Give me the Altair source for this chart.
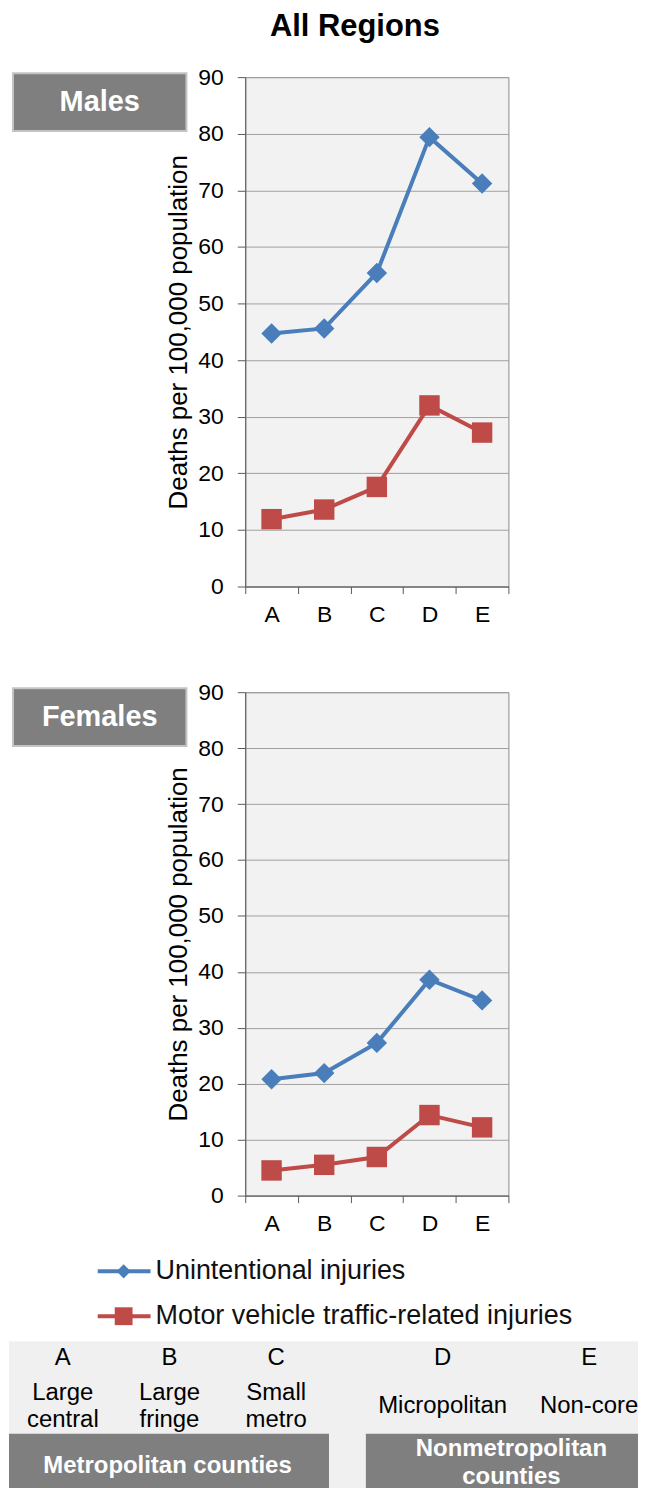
import altair as alt
import pandas as pd

# ---------------- data ----------------
title_text = "All Regions"
panel_labels = ["Males", "Females"]
categories = ["A", "B", "C", "D", "E"]
series_names = ["Unintentional injuries", "Motor vehicle traffic-related injuries"]
males_unintentional = [44.7, 45.6, 55.4, 79.4, 71.2]
males_motor = [11.9, 13.6, 17.6, 32.0, 27.2]
females_unintentional = [20.8, 21.9, 27.3, 38.6, 34.9]
females_motor = [4.5, 5.5, 6.9, 14.4, 12.2]
y_ticks = [0, 10, 20, 30, 40, 50, 60, 70, 80, 90]
y_title = "Deaths per 100,000 population"
descriptions = ["Large\ncentral", "Large\nfringe", "Small\nmetro", "Micropolitan", "Non-core"]
group_names = ["Metropolitan counties", "Nonmetropolitan\ncounties"]

# ---------------- styles ----------------
FONT = "Liberation Sans"
BLUE = "#4a7ebb"
RED = "#be4b48"
BOX = "#7f7f7f"
W = 264
LEFT, RIGHT = -237, 394   # canvas extent relative to the plot origin

color_scale = alt.Scale(domain=series_names, range=[BLUE, RED])
shape_scale = alt.Scale(domain=series_names, range=["diamond", "square"])


def one(**kw):
    return pd.DataFrame({k: [v] for k, v in kw.items()})


def panel(label, unint, motor, height, top, bottom, with_title, with_legend):
    df = pd.DataFrame({
        "region": categories * 2,
        "series": [series_names[0]] * 5 + [series_names[1]] * 5,
        "value": list(unint) + list(motor),
    })
    x = alt.X("region:N",
              scale=alt.Scale(type="band", domain=categories, paddingInner=0, paddingOuter=0),
              axis=alt.Axis(title=None, labelAngle=0, tickBand="extent", tickSize=7,
                            labelPadding=10, labelFontSize=23, labelFont=FONT, labelColor="#000",
                            domainColor="#595959", tickColor="#595959", grid=False))
    y = alt.Y("value:Q",
              scale=alt.Scale(domain=[0, 90], nice=False, zero=True),
              axis=alt.Axis(title=y_title, values=y_ticks, tickSize=8, labelPadding=14,
                            labelFontSize=23, labelFont=FONT, labelColor="#000",
                            titleFont=FONT, titleFontSize=26, titleFontWeight="normal",
                            titleColor="#000", titlePadding=6,
                            domainColor="#595959", tickColor="#595959",
                            gridColor="#a0a0a0", gridWidth=1))
    color = alt.Color("series:N", scale=color_scale, legend=None)
    shape = alt.Shape("series:N", scale=shape_scale, legend=None)

    base = alt.Chart(df)
    layers = [
        alt.Chart(one(k=1)).mark_rect(opacity=0).encode(
            x=alt.value(LEFT), x2=alt.value(RIGHT), y=alt.value(-top), y2=alt.value(height + bottom)),
        base.mark_line(strokeWidth=4).encode(x=x, y=y, color=color),
        base.mark_point(filled=True, size=420, opacity=1).encode(x=x, y=y, color=color, shape=shape),
        alt.Chart(one(label=label)).mark_rect(fill=BOX, stroke="#c4c4c4", strokeWidth=2).encode(
            x=alt.value(-233), x2=alt.value(-59), y=alt.value(-4), y2=alt.value(54)),
        alt.Chart(one(label=label)).mark_text(font=FONT, fontSize=29, fontWeight="bold",
                                               color="white", align="center", baseline="middle").encode(
            text="label:N", x=alt.value(-146), y=alt.value(25)),
    ]
    if with_title:
        layers.append(
            alt.Chart(one(t=title_text)).mark_text(font=FONT, fontSize=31, fontWeight="bold",
                                                   color="#000", align="center", baseline="top").encode(
                text="t:N", x=alt.value(110), y=alt.value(-65)))
    if with_legend:
        shapes = ["diamond", "square"]
        sizes = [200, 320]
        for i, name in enumerate(series_names):
            ld = one(series=name)
            yy = 581 + 45 * i
            layers += [
                alt.Chart(ld).mark_rule(strokeWidth=4).encode(
                    x=alt.value(-148), x2=alt.value(-95), y=alt.value(yy),
                    color=alt.Color("series:N", scale=color_scale, legend=None)),
                alt.Chart(ld).mark_point(filled=True, opacity=1, shape=shapes[i], size=sizes[i]).encode(
                    x=alt.value(-122), y=alt.value(yy),
                    color=alt.Color("series:N", scale=color_scale, legend=None)),
                alt.Chart(ld).mark_text(font=FONT, fontSize=27, color="#111", align="left",
                                        baseline="middle").encode(
                    text="series:N", x=alt.value(-90), y=alt.value(yy)),
            ]
    return alt.layer(*layers).properties(
        width=W, height=height,
        view=alt.ViewBackground(fill="#f2f2f2", stroke="#8a8a8a", strokeWidth=1))


males = panel(panel_labels[0], males_unintentional, males_motor, 511, 65, 53, True, False)
females = panel(panel_labels[1], females_unintentional, females_motor, 505, 51, 140, False, True)

# ---------------- bottom table ----------------
BH = 157
col_x = [-183, -76, 31, 198, 345]   # column centres relative to the plot origin
blayers = [
    alt.Chart(one(k=1)).mark_rect(opacity=0).encode(
        x=alt.value(LEFT), x2=alt.value(RIGHT), y=alt.value(0), y2=alt.value(BH)),
    alt.Chart(one(k=1)).mark_rect(fill="#f0f0f0").encode(
        x=alt.value(LEFT), x2=alt.value(RIGHT), y=alt.value(4), y2=alt.value(BH)),
]
for i, (cat, desc) in enumerate(zip(categories, descriptions)):
    d = one(region=cat, desc=desc)
    desc_y = 56 if "\n" in desc else 69
    blayers += [
        alt.Chart(d).mark_text(font=FONT, fontSize=24, color="#000", baseline="middle").encode(
            x=alt.value(col_x[i]), y=alt.value(21), text="region:N"),
        alt.Chart(d).mark_text(font=FONT, fontSize=24, color="#000", baseline="middle",
                               lineBreak="\n", lineHeight=27).encode(
            x=alt.value(col_x[i]), y=alt.value(desc_y), text="desc:N"),
    ]
blayers += [
    alt.Chart(one(g=group_names[0])).mark_rect(fill=BOX).encode(
        x=alt.value(LEFT), x2=alt.value(84), y=alt.value(97), y2=alt.value(BH)),
    alt.Chart(one(g=group_names[1])).mark_rect(fill=BOX).encode(
        x=alt.value(121), x2=alt.value(RIGHT), y=alt.value(97), y2=alt.value(BH)),
    alt.Chart(one(g=group_names[0])).mark_text(font=FONT, fontSize=24, fontWeight="bold",
                                                color="white", baseline="middle").encode(
        x=alt.value(-78), y=alt.value(129), text="g:N"),
    alt.Chart(one(g=group_names[1])).mark_text(font=FONT, fontSize=24, fontWeight="bold",
                                                color="white", baseline="middle",
                                                lineBreak="\n", lineHeight=28).encode(
        x=alt.value(267), y=alt.value(112), text="g:N"),
]
bottom = alt.layer(*blayers).properties(
    width=W, height=BH, view=alt.ViewBackground(fill="transparent", stroke="transparent"))

chart = alt.vconcat(males, females, bottom, spacing=0).properties(padding=0).configure_view(
    stroke="transparent")

chart.save("out.html", embed_options={"renderer": "svg", "actions": False})
